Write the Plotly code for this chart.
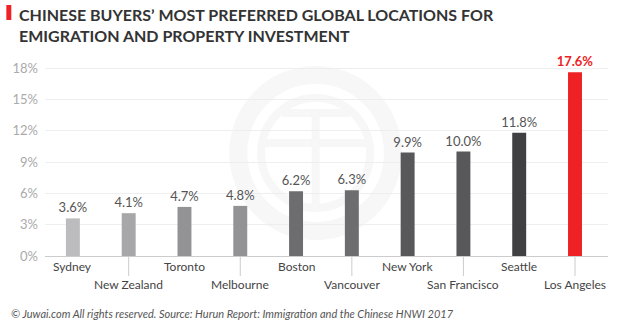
import plotly.graph_objects as go

cities = ["Sydney", "New Zealand", "Toronto", "Melbourne", "Boston",
          "Vancouver", "New York", "San Francisco", "Seattle", "Los Angeles"]
shares = [3.6, 4.1, 4.7, 4.8, 6.2, 6.3, 9.9, 10.0, 11.8, 17.6]
bar_colors = ["#bcbcbe", "#a7a7a9", "#939395", "#939396", "#6d6d70",
              "#6d6d70", "#58585a", "#58585a", "#404042", "#ee2224"]
y_ticks = [0, 3, 6, 9, 12, 15, 18]
y_tick_text = ["0%", "3%", "6%", "9%", "12%", "15%", "18%"]

title_text = ("<b>CHINESE BUYERS\u2019 MOST PREFERRED GLOBAL LOCATIONS FOR<br>"
              "EMIGRATION AND PROPERTY INVESTMENT</b>")
source_text = ("<i>\u00a9 Juwai.com All rights reserved. Source: Hurun Report: "
               "Immigration and the Chinese HNWI 2017</i>")

FONT = "Lato"
W, H = 620, 323
L, R, T, B = 40, 12, 55, 67
plot_h = H - T - B
y_top = 18 * plot_h / (256 - 68)

value_text = [f"{v:.1f}%" for v in shares]
text_colors = ["#555555"] * (len(shares) - 1) + ["#ee2224"]
bar_text = value_text[:-1] + [f"<b>{value_text[-1]}</b>"]

fig = go.Figure(go.Bar(
    x=cities, y=shares,
    marker=dict(color=bar_colors, line=dict(width=0)),
    text=bar_text, textposition="outside", constraintext="none",
    textangle=0,
    textfont=dict(family=FONT, size=13, color=text_colors),
    cliponaxis=False, width=0.25, hoverinfo="skip",
))

# alternating category labels under the axis, with drop lines for the lower row
annotations = []
shapes = []
for i, c in enumerate(cities):
    low = i % 2 == 1
    annotations.append(dict(
        x=c, xref="x", y=0, yref="paper", yanchor="middle",
        yshift=-28 if low else -10, text=c, showarrow=False,
        font=dict(family=FONT, size=12, color="#444444"),
    ))
    if low:
        shapes.append(dict(type="line", xref="x", yref="paper",
                           x0=c, x1=c, y0=0, y1=-20 / plot_h,
                           line=dict(color="#cccccc", width=1)))

# faint circular emblem in the background
cx, cy = 313, 153
def px(xp):
    return (xp - L) / (W - L - R)
def py(yp):
    return (H - B - yp) / plot_h
wm = "#f7f7f7"
shapes.append(dict(type="circle", xref="paper", yref="paper", layer="below",
                   x0=px(cx - 78), x1=px(cx + 78), y0=py(cy + 78), y1=py(cy - 78),
                   line=dict(color=wm, width=18)))
shapes.append(dict(type="circle", xref="paper", yref="paper", layer="below",
                   x0=px(cx - 55), x1=px(cx + 55), y0=py(cy + 55), y1=py(cy - 55),
                   line=dict(color=wm, width=8)))
shapes.append(dict(type="rect", xref="paper", yref="paper", layer="below",
                   x0=px(cx - 34), x1=px(cx + 34), y0=py(cy - 36), y1=py(cy - 44),
                   line=dict(width=0), fillcolor=wm))
shapes.append(dict(type="rect", xref="paper", yref="paper", layer="below",
                   x0=px(cx - 56), x1=px(cx + 56), y0=py(cy - 6), y1=py(cy - 14),
                   line=dict(width=0), fillcolor=wm))
shapes.append(dict(type="rect", xref="paper", yref="paper", layer="below",
                   x0=px(cx - 4), x1=px(cx + 4), y0=py(cy + 55), y1=py(cy - 44),
                   line=dict(width=0), fillcolor=wm))

# title marker
shapes.append(dict(type="rect", xref="paper", yref="paper",
                   x0=px(1), x1=px(6), y0=py(20), y1=py(5),
                   line=dict(width=0), fillcolor="#ee2224"))

annotations.append(dict(x=px(12), y=py(3), xref="paper", yref="paper",
                        xanchor="left", yanchor="top", align="left",
                        text=title_text, showarrow=False,
                        font=dict(family=FONT, size=16, color="#333333")))
annotations.append(dict(x=px(4), y=py(313), xref="paper", yref="paper",
                        xanchor="left", yanchor="middle", align="left",
                        text=source_text, showarrow=False,
                        font=dict(family=FONT, size=11, color="#555555")))

fig.update_layout(
    width=W, height=H,
    margin=dict(l=L, r=R, t=T, b=B, pad=0),
    paper_bgcolor="white", plot_bgcolor="rgba(0,0,0,0)",
    showlegend=False, bargap=0.75,
    annotations=annotations, shapes=shapes,
    xaxis=dict(showticklabels=False, ticks="", showgrid=False,
               showline=True, linecolor="#cccccc", linewidth=1,
               zeroline=False, fixedrange=True),
    yaxis=dict(range=[0, y_top], tickvals=y_ticks, ticktext=y_tick_text,
               showgrid=True, gridcolor="#eeeeee", gridwidth=1,
               zeroline=False, showline=False, ticks="",
               ticklabelstandoff=6,
               tickfont=dict(family=FONT, size=13, color="#aaaaaa"),
               fixedrange=True),
)

fig.write_html("out.html", config={"displayModeBar": False})
